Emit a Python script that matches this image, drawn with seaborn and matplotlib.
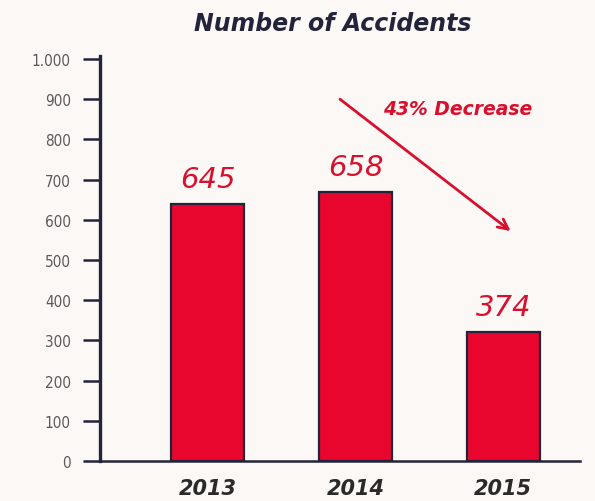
import matplotlib
matplotlib.use("Agg")
import matplotlib.pyplot as plt
import seaborn as sns
import pandas as pd
from matplotlib import font_manager

# ---- data ----
years = ["2013", "2014", "2015"]
bar_heights = [640, 668, 320]          # heights as drawn in the picture
value_labels = ["645", "658", "374"]   # printed labels
y_ticks = [0, 100, 200, 300, 400, 500, 600, 700, 800, 900, 1000]
y_tick_labels = ["0", "100", "200", "300", "400", "500", "600", "700", "800", "900", "1.000"]
title = "Number of Accidents"
note = "43% Decrease"

bg = "#fbf8f5"
red = "#e8062e"
label_red = "#d8102e"
navy = "#23233b"

sns.set_theme(style="white")
names = {f.name for f in font_manager.fontManager.ttflist}
narrow = "Liberation Sans Narrow" if "Liberation Sans Narrow" in names else "DejaVu Sans"
plt.rcParams["font.family"] = ["DejaVu Sans"]

df = pd.DataFrame({"year": years, "count": bar_heights})

fig = plt.figure(figsize=(5.95, 5.02), dpi=100, facecolor=bg)
ax = fig.add_axes([100 / 595, 1 - 462 / 502, 480 / 595, (462 - 60) / 502])
ax.set_facecolor(bg)

sns.barplot(data=df, x="year", y="count", color=red, saturation=1,
            width=0.495, edgecolor=navy, linewidth=1.6, ax=ax)

ax.set_xlim(-0.73, 2.52)
ax.set_ylim(0, 1000)
ax.set_xlabel("")
ax.set_ylabel("")

for s in ["top", "right"]:
    ax.spines[s].set_visible(False)
ax.spines["left"].set_color(navy)
ax.spines["left"].set_linewidth(2.4)
ax.spines["bottom"].set_color(navy)
ax.spines["bottom"].set_linewidth(1.8)
ax.spines["left"].set_bounds(0, 1008)

ax.set_yticks(y_ticks)
ax.set_yticklabels(y_tick_labels, fontfamily=narrow, fontstretch="condensed",
                   fontsize=11, color="#5a5a5a")
ax.tick_params(axis="y", direction="out", length=12, width=1.8, color=navy, pad=9, left=True)
ax.tick_params(axis="x", length=0, pad=12)
ax.set_xticks(range(len(years)))
ax.set_xticklabels(years, fontsize=15, fontweight="bold", fontstyle="italic", color="#2a2a2a")

for i, (h, lab) in enumerate(zip(bar_heights, value_labels)):
    ax.annotate(lab, xy=(i, h), xytext=(0, 8), textcoords="offset points",
                ha="center", va="bottom", fontsize=21, fontstyle="italic",
                fontweight="medium", color=label_red)

ax.annotate("", xy=(2.05, 572), xytext=(0.895, 900),
            arrowprops=dict(arrowstyle="->", color=label_red, lw=2.0,
                            mutation_scale=18, shrinkA=0, shrinkB=0),
            annotation_clip=False)
ax.text(1.186, 876, note, ha="left", va="center", fontsize=13.5,
        fontstyle="italic", fontweight="bold", color=label_red)

fig.text(0.56, 0.952, title, ha="center", va="center", fontsize=17,
         fontweight="bold", fontstyle="italic", color=navy)

fig.savefig("out.png", dpi=100, facecolor=bg)
